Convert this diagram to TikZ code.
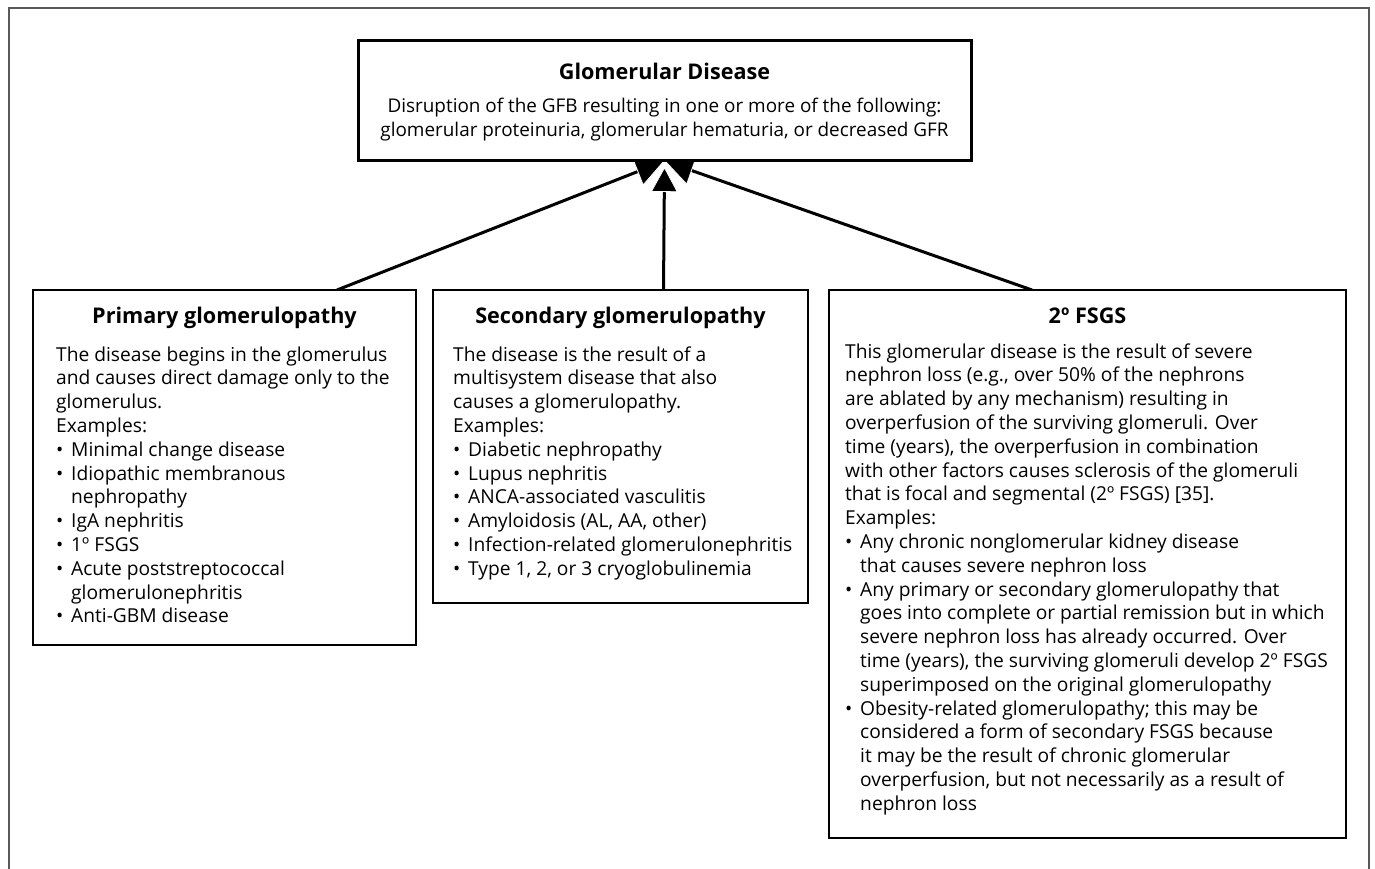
\documentclass[tikz,border=0pt]{standalone}
\usepackage{fontspec}
\setmainfont{Open Sans}
\usetikzlibrary{arrows.meta,backgrounds}
\newcommand\bu{\makebox[15pt][l]{•}}
\newcommand\ind{\hspace*{15pt}}
\newcommand\textlines[4]{%
  \foreach \t [count=\i] in {#4} {\node[txt] (#1\i) at (#2,{#3+(\i-1)*23.8}) {\t};}}
\begin{document}
\begin{tikzpicture}[x=1pt,y=-1pt,
  box/.style={draw=black,line width=2pt,fill=white,inner sep=0pt,outer sep=0pt,anchor=north west},
  txt/.style={anchor=base west,inner sep=0pt,font=\fontsize{19.2}{22}\selectfont},
  ctxt/.style={anchor=base,inner sep=0pt,font=\fontsize{18.9}{22}\selectfont},
  ttl/.style={anchor=base,inner sep=0pt,font=\fontsize{21.6}{24}\selectfont\bfseries},
  arr/.style={line width=3pt,-{Triangle[length=29pt,width=30pt,fill=black,color=white,line width=0.8pt]}},
  carr/.style={line width=3pt,-{Triangle[length=25pt,width=27pt,fill=black,color=white,line width=0.8pt]}}]
\useasboundingbox (0,0) rectangle (1375,869);
\draw[line width=2pt,draw=black!65] (8.5,880) -- (8.5,8.5) -- (1368.5,8.5) -- (1368.5,880);
% boxes
\node[box,line width=3pt,minimum width=613pt,minimum height=120pt] (top) at (358,41) {};
\node[box,minimum width=383pt,minimum height=355pt] (b1) at (33,290) {};
\node[box,minimum width=375pt,minimum height=313pt] (b2) at (433,290) {};
\node[box,minimum width=517pt,minimum height=548pt] (b3) at (829,290) {};
% top box text
\node[ttl] (tt) at (664.5,80) {Glomerular Disease};
\node[ctxt] (tl1) at (664.5,113) {Disruption of the GFB resulting in one or more of the following:};
\node[ctxt] (tl2) at (664.5,137) {glomerular proteinuria, glomerular hematuria, or decreased GFR};
% titles
\node[ttl] (t1) at (224.5,323) {Primary glomerulopathy};
\node[ttl] (t2) at (620.5,323) {Secondary glomerulopathy};
\node[ttl] (t3) at (1087.5,323) {2º FSGS};
% bodies
\textlines{p}{56}{361}{{The disease begins in the glomerulus},{and causes direct damage only to the},{glomerulus.},{Examples:},{\bu Minimal change disease},{\bu Idiopathic membranous},{\ind nephropathy},{\bu IgA nephritis},{\bu 1º FSGS},{\bu Acute poststreptococcal},{\ind glomerulonephritis},{\bu Anti-GBM disease}}
\textlines{s}{453}{361}{{The disease is the result of a},{multisystem disease that also},{causes a glomerulopathy.},{Examples:},{\bu Diabetic nephropathy},{\bu Lupus nephritis},{\bu ANCA-associated vasculitis},{\bu Amyloidosis (AL, AA, other)},{\bu Infection-related glomerulonephritis},{\bu Type 1, 2, or 3 cryoglobulinemia}}
\textlines{f}{845}{358}{{This glomerular disease is the result of severe},{nephron loss (e.g., over 50\% of the nephrons},{are ablated by any mechanism) resulting in},{overperfusion of the surviving glomeruli. Over},{time (years), the overperfusion in combination},{with other factors causes sclerosis of the glomeruli},{that is focal and segmental (2º FSGS) [35].},{Examples:},{\bu Any chronic nonglomerular kidney disease},{\ind that causes severe nephron loss},{\bu Any primary or secondary glomerulopathy that},{\ind goes into complete or partial remission but in which},{\ind severe nephron loss has already occurred. Over},{\ind time (years), the surviving glomeruli develop 2º FSGS},{\ind superimposed on the original glomerulopathy},{\bu Obesity-related glomerulopathy; this may be},{\ind considered a form of secondary FSGS because},{\ind it may be the result of chronic glomerular},{\ind overperfusion, but not necessarily as a result of},{\ind nephron loss}}
% arrows
\begin{scope}[on background layer]
\draw[arr] (b1.north west) ++(304,0) -- (top.south);
\draw[arr] (b3.north west) ++(203,0) -- (top.south);
\draw[carr] (b2.north west) ++(230.5,0) -- ([yshift=-6pt]top.south);
\end{scope}
\end{tikzpicture}
\end{document}
